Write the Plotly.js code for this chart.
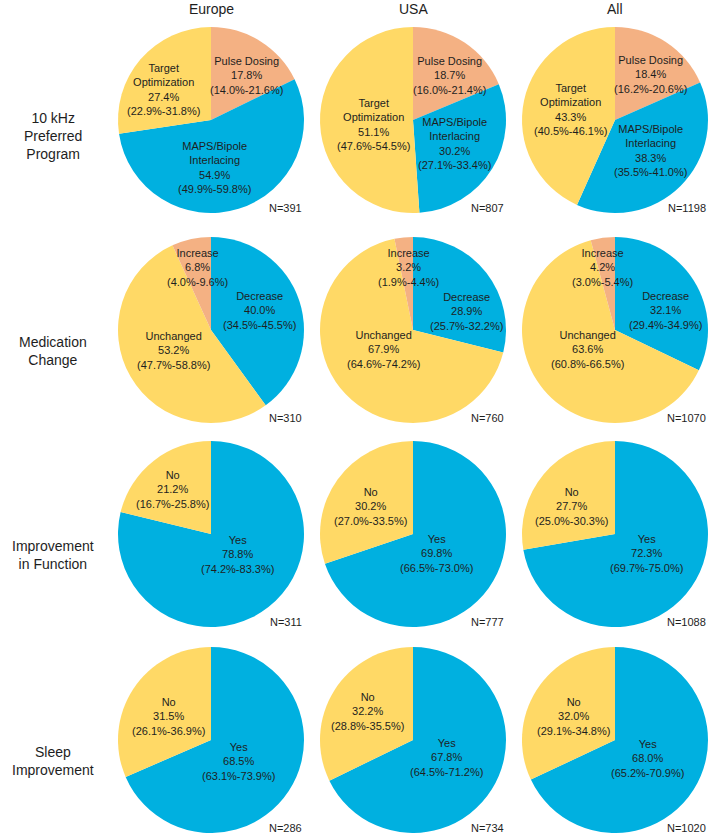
<!DOCTYPE html>
<html>
<head>
<meta charset="utf-8">
<script src="https://cdn.plot.ly/plotly-3.0.1.min.js"></script>
<style>html,body{margin:0;padding:0;background:#fff;}#chart{width:709px;height:833px;}</style>
</head>
<body>
<div id="chart"></div>
<script>
// ---------- DATA ----------
const regions = ['Europe', 'USA', 'All'];
const rowTitles = ['10 kHz<br>Preferred<br>Program', 'Medication<br>Change', 'Improvement<br>in Function', 'Sleep<br>Improvement'];

const programLabels = ['Pulse Dosing', 'MAPS/Bipole<br>Interlacing', 'Target<br>Optimization'];
const programLabelsUSA = ['Pulse Dosing', 'MAPS/Bipole<br>Interlacing', 'Target<br>Optimization'];
const programEurope = [17.8, 54.9, 27.4];
const programEuropeCI = [[14.0, 21.6], [49.9, 59.8], [22.9, 31.8]];
const programUSA = [18.7, 30.2, 51.1];
const programUSACI = [[16.0, 21.4], [27.1, 33.4], [47.6, 54.5]];
const programAll = [18.4, 38.3, 43.3];
const programAllCI = [[16.2, 20.6], [35.5, 41.0], [40.5, 46.1]];

const medicationLabels = ['Decrease', 'Unchanged', 'Increase'];
const medicationEurope = [40.0, 53.2, 6.8];
const medicationEuropeCI = [[34.5, 45.5], [47.7, 58.8], [4.0, 9.6]];
const medicationUSA = [28.9, 67.9, 3.2];
const medicationUSACI = [[25.7, 32.2], [64.6, 74.2], [1.9, 4.4]];
const medicationAll = [32.1, 63.6, 4.2];
const medicationAllCI = [[29.4, 34.9], [60.8, 66.5], [3.0, 5.4]];

const yesNoLabels = ['Yes', 'No'];
const functionEurope = [78.8, 21.2];
const functionEuropeCI = [[74.2, 83.3], [16.7, 25.8]];
const functionUSA = [69.8, 30.2];
const functionUSACI = [[66.5, 73.0], [27.0, 33.5]];
const functionAll = [72.3, 27.7];
const functionAllCI = [[69.7, 75.0], [25.0, 30.3]];

const sleepEurope = [68.5, 31.5];
const sleepEuropeCI = [[63.1, 73.9], [26.1, 36.9]];
const sleepUSA = [67.8, 32.2];
const sleepUSACI = [[64.5, 71.2], [28.8, 35.5]];
const sleepAll = [68.0, 32.0];
const sleepAllCI = [[65.2, 70.9], [29.1, 34.8]];

const nProgram = [391, 807, 1198];
const nMedication = [310, 760, 1070];
const nFunction = [311, 777, 1088];
const nSleep = [286, 734, 1020];

// ---------- STYLE / LAYOUT ----------
const W = 709, H = 833;
const SALMON = '#F4B183', BLUE = '#00B0E0', YELLOW = '#FFD966';
const TXT = '#1e1e1e';
const FONT = 'Arial, "Liberation Sans", sans-serif';
const colCx = [211, 413, 615];
const rowCy = [120, 330, 534, 740];
const R = 93;

// label offsets (px from pie centre), per row, per column, per slice
const labelOffsets = [
  [[[35, -45], [4, 47], [-48, -31]], [[36, -45], [41, 23], [-39, 5]], [[35, -46], [35, 30], [-45, -11]]],
  [[[48, -20], [-38, 20], [-14, -63]], [[53, -19], [-30, 19], [-5, -63]], [[50, -20], [-28, 19], [-13, -63]]],
  [[[27, 20], [-39, -45]], [[23, 19], [-43, -28]], [[31, 19], [-44, -28]]],
  [[[28, 21], [-43, -24]], [[33, 17], [-46, -29]], [[32, 18], [-42, -24]]]
];

const rows = [
  {labels: [programLabels, programLabelsUSA, programLabels], vals: [programEurope, programUSA, programAll],
   ci: [programEuropeCI, programUSACI, programAllCI], n: nProgram, colors: [SALMON, BLUE, YELLOW]},
  {labels: [medicationLabels, medicationLabels, medicationLabels], vals: [medicationEurope, medicationUSA, medicationAll],
   ci: [medicationEuropeCI, medicationUSACI, medicationAllCI], n: nMedication, colors: [BLUE, YELLOW, SALMON]},
  {labels: [yesNoLabels, yesNoLabels, yesNoLabels], vals: [functionEurope, functionUSA, functionAll],
   ci: [functionEuropeCI, functionUSACI, functionAllCI], n: nFunction, colors: [BLUE, YELLOW]},
  {labels: [yesNoLabels, yesNoLabels, yesNoLabels], vals: [sleepEurope, sleepUSA, sleepAll],
   ci: [sleepEuropeCI, sleepUSACI, sleepAllCI], n: nSleep, colors: [BLUE, YELLOW]}
];

const px = x => x / W;
const py = y => 1 - y / H;

const traces = [];
const annotations = [];

rows.forEach((row, ri) => {
  regions.forEach((reg, ci) => {
    const cx = colCx[ci], cy = rowCy[ri];
    const vals = row.vals[ci];
    traces.push({
      type: 'pie',
      values: vals,
      labels: row.labels[ci].map(s => s.replace('<br>', ' ')),
      sort: false,
      direction: 'clockwise',
      rotation: 0,
      textinfo: 'none',
      hoverinfo: 'label+percent',
      marker: {colors: row.colors, line: {width: 0}},
      domain: {x: [px(cx - R), px(cx + R)], y: [py(cy + R), py(cy - R)]},
      showlegend: false
    });
    vals.forEach((v, si) => {
      const lo = row.ci[ci][si][0], hi = row.ci[ci][si][1];
      const off = labelOffsets[ri][ci][si];
      annotations.push({
        xref: 'paper', yref: 'paper',
        x: px(cx + off[0]), y: py(cy + off[1]),
        xanchor: 'center', yanchor: 'middle',
        showarrow: false, align: 'center',
        text: row.labels[ci][si] + '<br>' + v.toFixed(1) + '%<br>(' + lo.toFixed(1) + '%-' + hi.toFixed(1) + '%)',
        font: {family: FONT, size: 11, color: TXT}
      });
    });
    annotations.push({
      xref: 'paper', yref: 'paper',
      x: px(Math.min(cx + R, 708)), y: py(cy + 88),
      xanchor: 'right', yanchor: 'middle', showarrow: false,
      text: 'N=' + row.n[ci],
      font: {family: FONT, size: 11, color: TXT}
    });
  });
  annotations.push({
    xref: 'paper', yref: 'paper',
    x: px(53), y: py(rowCy[ri] + (ri === 0 ? 16 : 21)),
    xanchor: 'center', yanchor: 'middle', showarrow: false, align: 'center',
    text: rowTitles[ri],
    font: {family: FONT, size: 14, color: TXT}
  });
});

regions.forEach((reg, ci) => {
  annotations.push({
    xref: 'paper', yref: 'paper',
    x: px(colCx[ci]), y: py(9),
    xanchor: 'center', yanchor: 'middle', showarrow: false,
    text: reg,
    font: {family: FONT, size: 14, color: TXT}
  });
});

Plotly.newPlot('chart', traces, {
  width: W, height: H,
  margin: {l: 0, r: 0, t: 0, b: 0},
  paper_bgcolor: '#ffffff',
  plot_bgcolor: '#ffffff',
  annotations: annotations,
  showlegend: false
}, {displayModeBar: false, staticPlot: true});
</script>
</body>
</html>
